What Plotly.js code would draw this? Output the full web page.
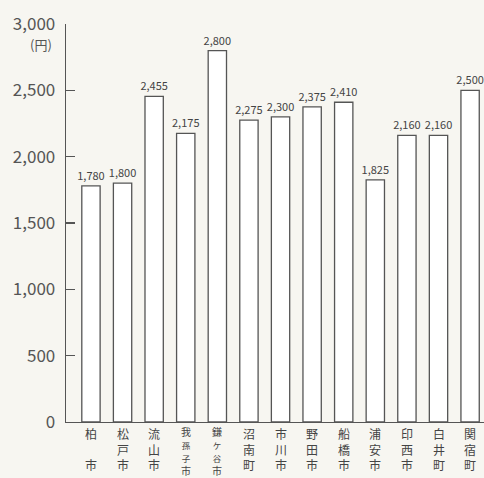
<!DOCTYPE html>
<html><head><meta charset="utf-8">
<script src="https://cdn.plot.ly/plotly-3.0.1.min.js"></script>
<style>html,body{margin:0;padding:0;background:#f7f6f1}</style>
</head><body>
<div id="chart" style="width:484px;height:478px"></div>
<script>
const cities = ["柏市","松戸市","流山市","我孫子市","鎌ケ谷市","沼南町","市川市","野田市","船橋市","浦安市","印西市","白井町","関宿町"];
const prices = [1780,1800,2455,2175,2800,2275,2300,2375,2410,1825,2160,2160,2500];
const yTicks = [0,500,1000,1500,2000,2500,3000];
const unitLabel = "(円)";

const FONT = '"Noto Sans CJK JP", "Noto Sans", sans-serif';
const ink = '#444';

function verticalLabel(name){
  const ch = Array.from(name);
  if (ch.length === 2) return ch[0] + '<br>\u3000<br>' + ch[1];
  if (ch.length === 3) return ch.join('<br>');
  // 4 chars: squeeze middle ones
  return '<span style="font-size:10px">' + ch[0] + '</span><br>' +
         '<span style="font-size:8.5px">' + ch[1] + '</span><br>' +
         '<span style="font-size:8.5px">' + ch[2] + '</span><br>' +
         '<span style="font-size:10px">' + ch[3] + '</span>';
}

const idx = cities.map((_, i) => i);
const annotations = cities.map((c, i) => {
  const four = Array.from(c).length === 4;
  return {
    xref: 'x', yref: 'paper', x: i, y: 0,
    yanchor: 'top', xanchor: 'center',
    yshift: four ? 0 : -1,
    text: verticalLabel(c),
    showarrow: false,
    font: {family: FONT, size: four ? 10 : 12, color: ink}
  };
});
annotations.push({
  xref: 'paper', yref: 'y', x: 0, y: 3000, xanchor: 'right', yanchor: 'top',
  xshift: -12, yshift: -9, text: unitLabel, showarrow: false,
  font: {family: FONT, size: 13, color: '#555'}
});

const trace = {
  type: 'bar',
  x: idx,
  y: prices,
  width: 0.58,
  marker: {color: '#ffffff', line: {color: '#555', width: 1.3}},
  text: prices.map(v => v.toLocaleString('en-US')),
  textposition: 'outside',
  constraintext: 'none',
  textfont: {family: FONT, size: 11, color: ink},
  cliponaxis: false,
  hoverinfo: 'none'
};

const layout = {
  width: 484, height: 478,
  margin: {l: 66, r: 0, t: 24, b: 56},
  paper_bgcolor: '#f7f6f1',
  plot_bgcolor: '#f7f6f1',
  showlegend: false,
  xaxis: {
    range: [-0.79, 12.44],
    showticklabels: false,
    ticks: '',
    showgrid: false,
    zeroline: false,
    showline: true, linecolor: '#555', linewidth: 1.3,
    fixedrange: true
  },
  yaxis: {
    range: [0, 3000],
    tickvals: yTicks,
    ticktext: yTicks.map(v => v.toLocaleString('en-US')),
    ticks: 'inside', ticklen: 9, tickcolor: '#555', tickwidth: 1.3,
    showgrid: false, zeroline: false,
    showline: true, linecolor: '#555', linewidth: 1.3,
    tickfont: {family: FONT, size: 17, color: '#555'},
    ticklabelstandoff: 6,
    fixedrange: true
  },
  annotations: annotations,
  font: {family: FONT, color: ink}
};

Plotly.newPlot('chart', [trace], layout, {displayModeBar: false, staticPlot: true});
</script>
</body></html>
